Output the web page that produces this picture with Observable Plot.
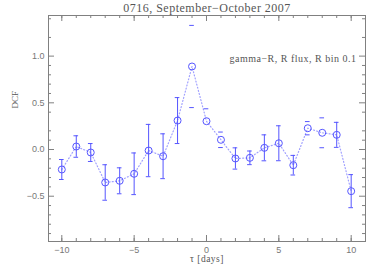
<!DOCTYPE html>
<html><head><meta charset="utf-8">
<script src="https://cdn.jsdelivr.net/npm/d3@7"></script>
<script src="https://cdn.jsdelivr.net/npm/@observablehq/plot@0.6"></script>
<style>body{margin:0;background:#fff}</style>
</head><body><div id="chart"></div>
<script>
const tau = [-10, -9, -8, -7, -6, -5, -4, -3, -2, -1, 0, 1, 2, 3, 4, 5, 6, 7, 8, 9, 10];
const dcf = [-0.214, 0.032, -0.032, -0.353, -0.335, -0.26, -0.011, -0.072, 0.31, 0.889, 0.303, 0.104, -0.096, -0.089, 0.018, 0.067, -0.168, 0.228, 0.179, 0.157, -0.446];
const err = [0.107, 0.115, 0.096, 0.19, 0.139, 0.223, 0.28, 0.24, 0.246, 0.44, 0.133, 0.083, 0.114, 0.073, 0.139, 0.187, 0.105, 0.071, 0.16, 0.134, 0.177];
const capsOnly = [-1, 0, 1, 7, 8];
const noLowCap = [0];
const xMajor = [-10, -5, 0, 5, 10];
const xMinor = d3.range(-10, 11);
const yMajor = [-0.5, 0, 0.5, 1.0];
const yMinor = [-0.9,-0.8,-0.7,-0.6,-0.4,-0.3,-0.2,-0.1,0.1,0.2,0.4,0.6,0.7,0.8,0.9,1.2,1.4];
const title = "0716, September\u2212October 2007";
const note = "gamma\u2212R, R flux, R bin 0.1";

const data = tau.map((t, i) => ({tau: t, v: dcf[i], e: err[i], bar: !capsOnly.includes(t), low: !noLowCap.includes(t)}));
const W = 380, H = 272, mt = 15, mb = 31, ml = 48, mr = 15;
const fh = H - mt - mb, fw = W - ml - mr;
const gray = "#808080";
const blue = "#5555ff";
const fmt = d => d.toFixed(1).replace("-", "\u2212");
const capW = 0.16;

const chart = Plot.plot({
  width: W, height: H,
  marginTop: mt, marginBottom: mb, marginLeft: ml, marginRight: mr,
  x: {domain: [-10.92, 10.99]},
  y: {domain: [-0.985, 1.435]},
  style: {fontFamily: "Liberation Sans, sans-serif", fontSize: "9px", color: "#777", background: "#fff"},
  marks: [
    Plot.frame({stroke: gray}),
    Plot.ruleX(xMinor, {x: d => d, stroke: gray, insetTop: fh - 3}),
    Plot.ruleX(xMajor, {x: d => d, stroke: gray, insetTop: fh - 6}),
    Plot.ruleX(xMinor, {x: d => d, stroke: gray, insetBottom: fh - 3}),
    Plot.ruleX(xMajor, {x: d => d, stroke: gray, insetBottom: fh - 6}),
    Plot.ruleY(yMinor, {y: d => d, stroke: gray, insetRight: fw - 3}),
    Plot.ruleY(yMajor, {y: d => d, stroke: gray, insetRight: fw - 6}),
    Plot.ruleY(yMinor, {y: d => d, stroke: gray, insetLeft: fw - 3}),
    Plot.ruleY(yMajor, {y: d => d, stroke: gray, insetLeft: fw - 6}),
    Plot.axisX({ticks: xMajor, tickSize: 0, tickPadding: 5, tickFormat: d => String(d).replace("-", "\u2212"), label: null}),
    Plot.axisY({ticks: yMajor, tickSize: 0, tickPadding: 4, tickFormat: fmt, label: null}),
    Plot.line(data, {x: "tau", y: "v", stroke: "#a0a0ff", strokeWidth: 1.2, strokeDasharray: "1,2.2"}),
    Plot.ruleX(data.filter(d => d.bar), {x: "tau", y1: d => d.v - d.e, y2: d => d.v + d.e, stroke: blue, strokeWidth: 1}),
    Plot.ruleY(data, {y: d => d.v + d.e, x1: d => d.tau - capW, x2: d => d.tau + capW, stroke: blue, strokeWidth: 1}),
    Plot.ruleY(data.filter(d => d.low), {y: d => d.v - d.e, x1: d => d.tau - capW, x2: d => d.tau + capW, stroke: blue, strokeWidth: 1}),
    Plot.dot(data, {x: "tau", y: "v", r: 3.5, stroke: blue, fill: "none", strokeWidth: 1}),
    Plot.text([title], {frameAnchor: "top", lineAnchor: "middle", dy: -7, text: d => d, fontFamily: "Liberation Serif, serif", fontSize: 12, fill: "#555", className: "ls"}),
    Plot.text([note], {frameAnchor: "top-right", dx: -9, dy: 39, text: d => d, fontFamily: "Liberation Serif, serif", fontSize: 10, fill: "#555", className: "ls"}),
    Plot.text(["\u03c4 [days]"], {frameAnchor: "bottom", dy: 20, text: d => d, fontFamily: "Liberation Serif, serif", fontSize: 9.5, fill: "#555", className: "ls"}),
    Plot.text(["DCF"], {frameAnchor: "left", dx: -33, dy: -20, rotate: -90, text: d => d, fontFamily: "Liberation Serif, serif", fontSize: 9, fill: "#555"})
  ]
});
d3.select(chart).selectAll("g.ls text").style("letter-spacing", "0.5px");
document.getElementById("chart").appendChild(chart);
</script>
</body></html>
